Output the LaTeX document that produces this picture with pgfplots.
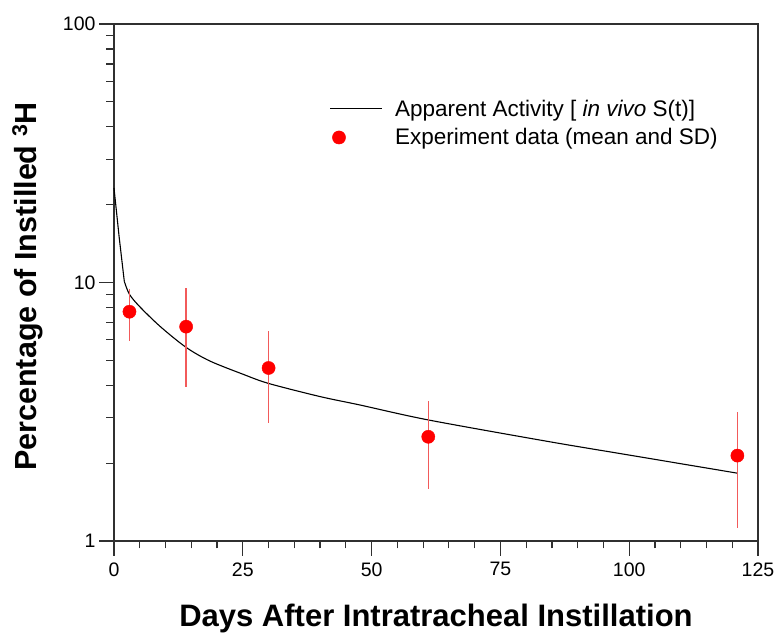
\documentclass[border=0pt]{standalone}
\usepackage{pgfplots}
\pgfplotsset{compat=1.18}
\usepackage{fontspec}
\setmainfont{Liberation Sans}
\definecolor{axgray}{HTML}{303030}
\definecolor{errred}{HTML}{F25A5A}
\begin{document}
\begin{tikzpicture}
\begin{axis}[
  scale only axis,
  width=644bp, height=517bp,
  xmin=0, xmax=125,
  ymode=log, ymin=1, ymax=100,
  axis line style={axgray, line width=1.3bp},
  every tick/.style={axgray, line width=1.2bp},
  tick align=outside,
  xtick pos=bottom, ytick pos=left,
  major tick length=15bp, minor tick length=7.5bp,
  xtick={0,25,50,75,100,125},
  minor x tick num=4,
  ytick={1,10,100},
  yticklabels={1,10,100},
  /pgf/number format/assume math mode=true,
  tick label style={font=\fontsize{19.5bp}{22bp}\selectfont},
  xticklabel style={yshift=-3bp},
  xlabel={\textbf{Days After Intratracheal Instillation}},
  ylabel={\textbf{Percentage of Instilled \textsuperscript{3}H}},
  label style={font=\fontsize{30.5bp}{36bp}\selectfont},
  xlabel style={font=\fontsize{31bp}{36bp}\selectfont, at={(axis description cs:0.5,-0.1663)}, anchor=base},
  ylabel style={at={(axis description cs:-0.1211,0.492)}, anchor=base},
  legend cell align=left,
  legend style={draw=none, fill=none, inner sep=0pt, at={(axis description cs:0.335,0.8576)}, anchor=north west,
    font=\fontsize{22.5bp}{26bp}\selectfont, row sep=7bp, column sep=10bp},
  clip=false,
]
\addplot[black, line width=1.1bp, forget plot]
  coordinates {(0,23.2) (1,15.0) (2,10.1)};
\addplot[black, line width=1.1bp, smooth, tension=0.5, legend image code/.code={\draw[black, line width=1.1bp] (0bp,0bp) -- (52bp,0bp);}]
  coordinates {
  (2,10.1) (3,9.0) (5,8.06) (9,6.75) (14,5.61) (18.6,4.97)
  (25,4.42) (30,4.07) (40,3.62) (47.7,3.36) (61,2.94) (84.6,2.42) (100,2.15) (121,1.83)
  };
\addlegendentry{Apparent Activity [ \textit{in vivo} S(t)]}
\addplot[only marks, mark=*, mark size=6.6bp, mark options={fill=red, draw=red},
  error bars/.cd, y dir=both, y explicit, error mark=none,
  error bar style={errred, line width=1.3bp}]
  coordinates {
  (3,7.71) +- (0,1.75)
  (14,6.75) +- (0,2.8)
  (30,4.67) +- (0,1.82)
  (61,2.53) +- (0,0.94)
  (121,2.14) +- (0,1.02)
  };
\addlegendimage{legend image code/.code={\fill[red] (26bp,0bp) circle (6.6bp);}}
\addlegendentry{Experiment data (mean and SD)}
\end{axis}
\pgfresetboundingbox
\path[use as bounding box] (-114bp,-92bp) rectangle (664bp,541bp);
\end{tikzpicture}
\end{document}
